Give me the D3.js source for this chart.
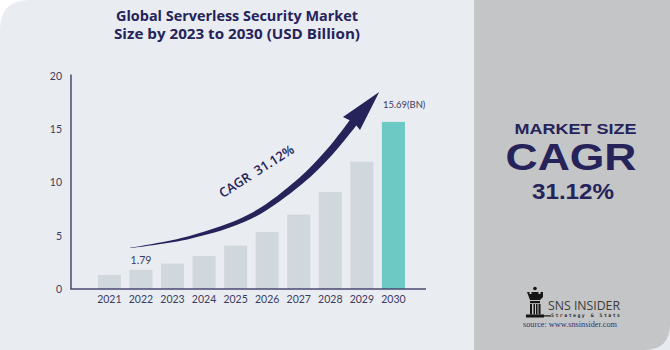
<!DOCTYPE html>
<html>
<head>
<meta charset="utf-8">
<script src="https://cdn.jsdelivr.net/npm/d3@7"></script>
<style>
  html, body { margin: 0; padding: 0; background: #ffffff; }
  svg { display: block; }
</style>
</head>
<body>
<svg width="670" height="350"></svg>
<script>
// data
var years = ["2021", "2022", "2023", "2024", "2025", "2026", "2027", "2028", "2029", "2030"]
var marketSize = [1.31, 1.79, 2.38, 3.1, 4.07, 5.35, 6.98, 9.1, 11.95, 15.69]
var yTicks = [0, 5, 10, 15, 20]
var titleLines = ["Global Serverless Security Market", "Size by 2023 to 2030 (USD Billion)"]
var cagrText = "CAGR  31.12%"
var sideLines = ["MARKET SIZE", "CAGR", "31.12%"]

var navy = "#25235a"
var svg = d3.select("svg")

// backgrounds
svg.append("rect").attr("x", 0).attr("y", 0).attr("width", 670).attr("height", 350).attr("fill", "#e7eaef")
svg.append("path")
    .attr("d", "M0,30 Q0,0 30,0 L474,0 L474,350 L0,350 Z")
    .attr("fill", "#e9ecf1")
// white outside the top-left corner
svg.append("path").attr("d", "M0,0 L30,0 Q0,0 0,30 Z").attr("fill", "#ffffff")
svg.append("path")
    .attr("d", "M474,0 L670,0 L670,324 Q670,350 644,350 L474,350 Z")
    .attr("fill", "#c4c5c7")

// title
svg.append("g").selectAll("text").data(titleLines)
    .enter().append("text")
    .attr("x", 237)
    .attr("y", (d, i) => 21 + i * 18)
    .attr("text-anchor", "middle")
    .attr("font-family", "Open Sans")
    .attr("font-weight", 700)
    .attr("font-size", 14)
    .attr("textLength", (d, i) => i == 0 ? 242 : 246)
    .attr("lengthAdjust", "spacingAndGlyphs")
    .attr("fill", navy)
    .text(d => d)

// scales
var x = d3.scaleBand().domain(years).range([93.6, 409.2]).paddingInner(0.27).paddingOuter(0.135)
var y = d3.scaleLinear().domain([0, 20]).range([289, 76])

// bars
svg.append("g").selectAll("rect").data(marketSize)
    .enter().append("rect")
    .attr("x", (d, i) => x(years[i]))
    .attr("y", d => y(d))
    .attr("width", x.bandwidth())
    .attr("height", d => y(0) - y(d))
    .attr("fill", (d, i) => i == years.length - 1 ? "#6dc9c3" : "#d0d7dd")

// axes
var axisColor = "#4a4872"
var yAxis = d3.axisLeft(y).tickValues(yTicks).tickSize(0).tickPadding(9)
var gy = svg.append("g").attr("transform", "translate(71,0)").call(yAxis)
gy.select(".domain").remove()
gy.selectAll("text").attr("font-family", "Lato").attr("font-size", 10.5).attr("fill", "#3c3b5e")

var xAxis = d3.axisBottom(x).tickSize(0).tickPadding(7)
var gx = svg.append("g").attr("transform", "translate(0," + y(0) + ")").call(xAxis)
gx.select(".domain").remove()
gx.selectAll("text").attr("font-family", "Lato").attr("font-size", 10.5).attr("fill", "#3c3b5e")

svg.append("line").attr("x1", 71).attr("x2", 71).attr("y1", y(20) - 1.5).attr("y2", y(0))
    .attr("stroke", axisColor).attr("stroke-width", 1.5)
svg.append("line").attr("x1", 70.25).attr("x2", 426).attr("y1", y(0)).attr("y2", y(0))
    .attr("stroke", axisColor).attr("stroke-width", 1.5)

// value labels (first projected and last years)
var cx = i => x(years[i]) + x.bandwidth() / 2
svg.append("text").attr("x", cx(1)).attr("y", y(marketSize[1]) - 5.5)
    .attr("text-anchor", "middle").attr("font-family", "Lato").attr("font-size", 10.5)
    .attr("fill", "#3c3b5e").text(marketSize[1])
svg.append("text").attr("x", cx(9) - 10.5).attr("y", y(marketSize[9]) - 14)
    .attr("font-family", "Lato").attr("font-size", 10)
    .attr("textLength", 42.5).attr("lengthAdjust", "spacingAndGlyphs")
    .attr("fill", "#3c3b5e").text(marketSize[9] + "(BN)")

// growth arrow, placed with the scales (index position along the bars, value height)
var xi = i => cx(0) + i * x.step()
var spine = [[0.65, 3.85], [2.55, 4.85], [4.46, 6.8], [6.04, 10.1], [6.99, 12.9], [7.72, 15.6]]
    .map(p => [xi(p[0]), y(p[1])])
var widths = [0.4, 3, 5, 6.5, 7.5, 8.5]
var upper = [], lower = []
spine.forEach((p, k) => {
    var a = spine[Math.max(k - 1, 0)], b = spine[Math.min(k + 1, spine.length - 1)]
    var dx = b[0] - a[0], dy = b[1] - a[1], len = Math.hypot(dx, dy)
    var nx = dy / len, ny = -dx / len   // points up-left
    upper.push([p[0] + nx * widths[k] / 2, p[1] + ny * widths[k] / 2])
    lower.push([p[0] - nx * widths[k] / 2, p[1] - ny * widths[k] / 2])
})
var base = spine[spine.length - 1]
var tip = [xi(8.55), y(18.5)]
var hd = [tip[0] - base[0], tip[1] - base[1]], hl = Math.hypot(hd[0], hd[1])
hd = [hd[0] / hl, hd[1] / hl]
var hn = [hd[1], -hd[0]]
var barbL = [base[0] + hn[0] * 11.5 - hd[0] * 2, base[1] + hn[1] * 11.5 - hd[1] * 2]
var barbR = [base[0] - hn[0] * 10 - hd[0] * 1, base[1] - hn[1] * 10 - hd[1] * 1]
var curve = d3.line().curve(d3.curveCatmullRom)
var arrowPath = curve(upper) + "L" + barbL + "L" + tip + "L" + barbR + curve(lower.slice().reverse()).replace("M", "L") + "Z"
svg.append("path").attr("d", arrowPath).attr("fill", navy)

svg.append("text")
    .attr("transform", "translate(259,175) rotate(-32.6)")
    .attr("text-anchor", "middle")
    .attr("font-family", "Open Sans").attr("font-weight", 600).attr("font-size", 13)
    .attr("fill", navy)
    .attr("xml:space", "preserve")
    .style("white-space", "pre")
    .text(cagrText)

// side panel
var side = svg.append("g")
    .attr("font-family", "Liberation Sans").attr("font-weight", 700)
    .attr("fill", navy).attr("text-anchor", "middle")
side.append("text").attr("x", 575.5).attr("y", 133.5).attr("font-size", 14)
    .attr("textLength", 122).attr("lengthAdjust", "spacingAndGlyphs").text(sideLines[0])
side.append("text").attr("x", 571).attr("y", 169.5).attr("font-size", 37)
    .attr("textLength", 131).attr("lengthAdjust", "spacingAndGlyphs").text(sideLines[1])
side.append("text").attr("x", 573).attr("y", 199).attr("font-size", 22)
    .attr("textLength", 82).attr("lengthAdjust", "spacingAndGlyphs").text(sideLines[2])

// logo
var logo = svg.append("g").attr("fill", "#151515")
logo.append("circle").attr("cx", 535).attr("cy", 288.5).attr("r", 1.8)
logo.append("path").attr("d", "M527,292 L529.5,292 L529.5,294 L531.5,294 L531.5,292 L538.5,292 L538.5,294 L540.5,294 L540.5,292 L543,292 L543,297 L540,300 L530,300 Z")
logo.append("rect").attr("x", 530).attr("y", 301).attr("width", 10).attr("height", 2.2)
logo.append("rect").attr("x", 530).attr("y", 304).attr("width", 2).attr("height", 10.5)
logo.append("rect").attr("x", 533.5).attr("y", 304).attr("width", 1.5).attr("height", 10.5)
logo.append("rect").attr("x", 536).attr("y", 304).attr("width", 1.5).attr("height", 10.5)
logo.append("rect").attr("x", 538.5).attr("y", 304).attr("width", 2).attr("height", 10.5)
logo.append("rect").attr("x", 526).attr("y", 314.5).attr("width", 18).attr("height", 3)
logo.append("rect").attr("x", 542).attr("y", 315.3).attr("width", 9).attr("height", 1.2)
svg.append("text").attr("x", 548).attr("y", 310).attr("font-family", "Open Sans")
    .attr("font-size", 13).attr("fill", "#3b3b3b")
    .attr("textLength", 72).attr("lengthAdjust", "spacingAndGlyphs").text("SNS INSIDER")
svg.append("text").attr("x", 551).attr("y", 316.8).attr("font-family", "DejaVu Sans Mono")
    .attr("font-weight", 700).attr("font-size", 4.8).attr("fill", "#2a2a2a")
    .attr("textLength", 69).attr("lengthAdjust", "spacing").text("Strategy & Stats")
svg.append("text").attr("x", 570).attr("y", 326.5).attr("text-anchor", "middle")
    .attr("font-family", "Liberation Serif").attr("font-size", 8.5).attr("fill", "#34336a")
    .attr("textLength", 94).attr("lengthAdjust", "spacingAndGlyphs").text("source: www.snsinsider.com")
</script>
</body>
</html>
